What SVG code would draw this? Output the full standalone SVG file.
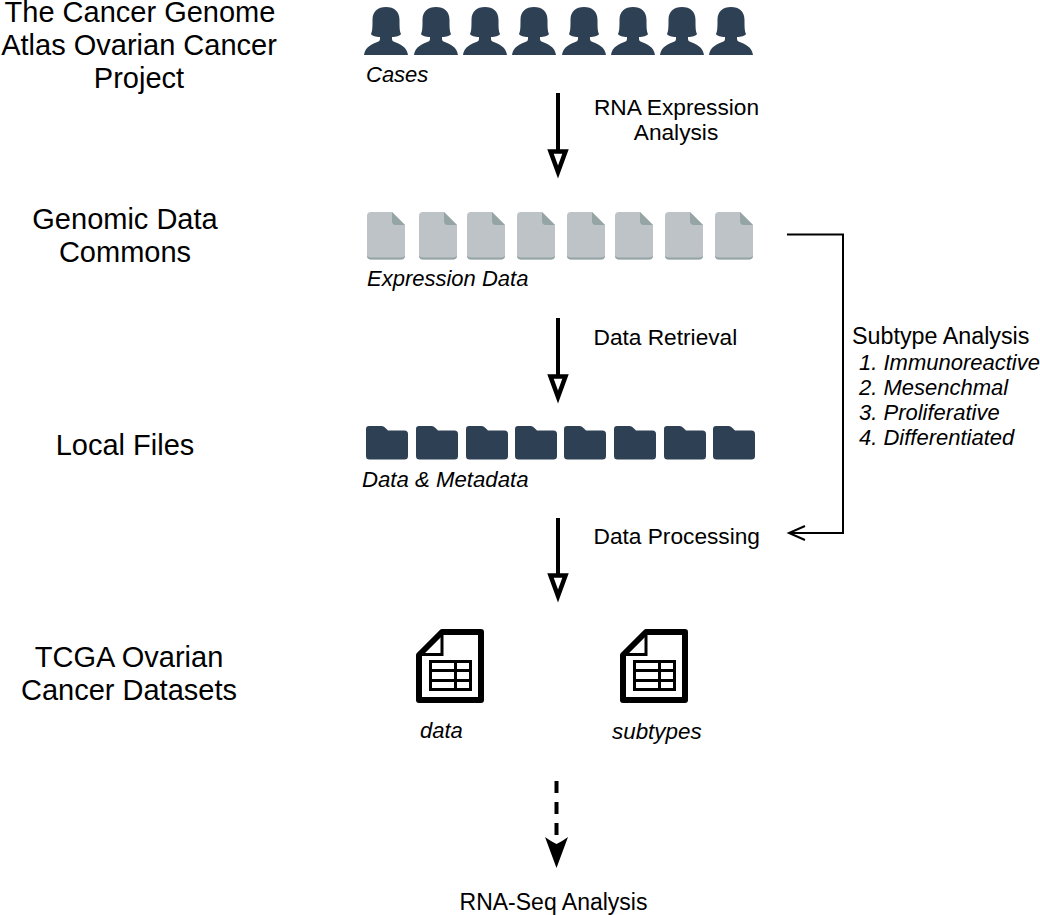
<svg xmlns="http://www.w3.org/2000/svg" width="1040" height="915" viewBox="0 0 1040 915">
<style>
text{font-family:"Liberation Sans",Arial,sans-serif;fill:#000}
.t{font-size:29px;text-anchor:middle}
.l{font-size:22.7px}
.c{text-anchor:middle}
.i{font-size:22px;font-style:italic}
.shaft{stroke:#000;stroke-width:4;fill:none}
.hollow{fill:#fff;stroke:#000;stroke-width:4.500;stroke-linejoin:miter}
</style>
<defs>
<g id="person"><path d="M-22 55C-21 47-14 44-7.500 41.500C-6.500 41-6 40-6 38.500L-6 37C-10 37-14 36-15 34C-13.500 31-13.500 27-13.500 20C-13.500 11-8 7 0 7C8 7 13.500 11 13.500 20C13.500 27 13.500 31 15 34C14 36 10 37 6 37L6 38.500C6 40 6.500 41 7.500 41.500C14 44 21 47 22 55Z" fill="#2e4053"/></g>
<g id="doc"><path d="M4 0H25L38 13V43.500Q38 47.500 34 47.500H4Q0 47.500 0 43.500V4Q0 0 4 0Z" fill="#bdc3c7"/><path d="M0 43.500Q0 47.500 4 47.500H34Q38 47.500 38 43.500V42.500Q38 45.500 34 45.500H4Q0 45.500 0 42.500Z" fill="#95a5a6"/><path d="M25 0L38 13H29Q25 13 25 9Z" fill="#95a5a6"/></g>
<g id="folder"><path d="M3 0H16Q18 0 20 2.500L22 4.500H38.500Q42 4.500 42 8V30Q42 33.500 38.500 33.500H3.500Q0 33.500 0 30V3Q0 0 3 0Z" fill="#2e4053"/></g>
<g id="sheet"><path d="M26 3H65V71H3V26Z" fill="#fff" stroke="#000" stroke-width="6" stroke-linejoin="round"/><path d="M26 3V25.500H3" fill="none" stroke="#000" stroke-width="3"/><path d="M14.500 32.500H54.500V60.500H14.500Z" fill="#fff" stroke="#000" stroke-width="3"/><path d="M14.500 41.500H54.500M14.500 51.500H54.500M39.500 32.500V60.500" fill="none" stroke="#000" stroke-width="3"/></g>
</defs>

<g id="label-tcga"><text class="t" x="140" y="22">The Cancer Genome</text><text class="t" x="139" y="55">Atlas Ovarian Cancer</text><text class="t" x="139" y="88">Project</text></g>
<g id="label-gdc"><text class="t" x="125" y="229">Genomic Data</text><text class="t" x="125" y="262">Commons</text></g>
<g id="label-local"><text class="t" x="125" y="455">Local Files</text></g>
<g id="label-datasets"><text class="t" x="129" y="667">TCGA Ovarian</text><text class="t" x="129" y="700">Cancer Datasets</text></g>

<g id="cases">
<use href="#person" x="386"/><use href="#person" x="436"/><use href="#person" x="485"/><use href="#person" x="534"/><use href="#person" x="584"/><use href="#person" x="633"/><use href="#person" x="682"/><use href="#person" x="731"/>
<text class="i" x="366" y="82">Cases</text>
</g>
<g id="expression-data">
<use href="#doc" x="367" y="212"/><use href="#doc" x="419" y="212"/><use href="#doc" x="467" y="212"/><use href="#doc" x="517" y="212"/><use href="#doc" x="567" y="212"/><use href="#doc" x="615" y="212"/><use href="#doc" x="665" y="212"/><use href="#doc" x="715" y="212"/>
<text class="i" x="367" y="286">Expression Data</text>
</g>
<g id="metadata">
<use href="#folder" x="366" y="426"/><use href="#folder" x="416" y="426"/><use href="#folder" x="466" y="426"/><use href="#folder" x="515" y="426"/><use href="#folder" x="564" y="426"/><use href="#folder" x="614" y="426"/><use href="#folder" x="664" y="426"/><use href="#folder" x="713" y="426"/>
<text class="i" x="362" y="487" style="font-size:22.200px">Data &amp; Metadata</text>
</g>
<g id="dataset-data"><use href="#sheet" x="416" y="629"/><text class="i" x="420" y="738">data</text></g>
<g id="dataset-subtypes"><use href="#sheet" x="620" y="629"/><text class="i" x="612" y="739" style="font-size:22.400px">subtypes</text></g>
<g id="rnaseq"><text class="l c" x="553.500" y="910" style="font-size:23px">RNA-Seq Analysis</text></g>

<g id="connectors">
<path class="shaft" d="M558 93V151"/><path class="hollow" d="M550.500 151.500H565.500L558 172Z"/>
<path class="shaft" d="M558 318V376"/><path class="hollow" d="M550.500 376.500H565.500L558 397Z"/>
<path class="shaft" d="M558 518V575"/><path class="hollow" d="M550.500 575.500H565.500L558 596Z"/>
<path class="shaft" d="M556.500 781V835" stroke-dasharray="12 9"/><path d="M545 837Q552 842 556.500 844Q561 842 568 837L556.500 868Z" fill="#000"/>
<path d="M787 234.500H843V533H789" fill="none" stroke="#000" stroke-width="2"/><path d="M805 526L789 533L805 540" fill="none" stroke="#000" stroke-width="2"/>
</g>

<g id="edge-labels">
<text class="l c" x="676.500" y="115">RNA Expression</text><text class="l c" x="676" y="140">Analysis</text>
<text class="l" x="593.500" y="345">Data Retrieval</text>
<text class="l" x="593.500" y="544">Data Processing</text>
<text class="l" x="852" y="344" style="font-size:23.300px">Subtype Analysis</text>
<text class="i" x="859" y="370">1. Immunoreactive</text>
<text class="i" x="859" y="395">2. Mesenchmal</text>
<text class="i" x="859" y="420">3. Proliferative</text>
<text class="i" x="859" y="445">4. Differentiated</text>
</g>
</svg>
